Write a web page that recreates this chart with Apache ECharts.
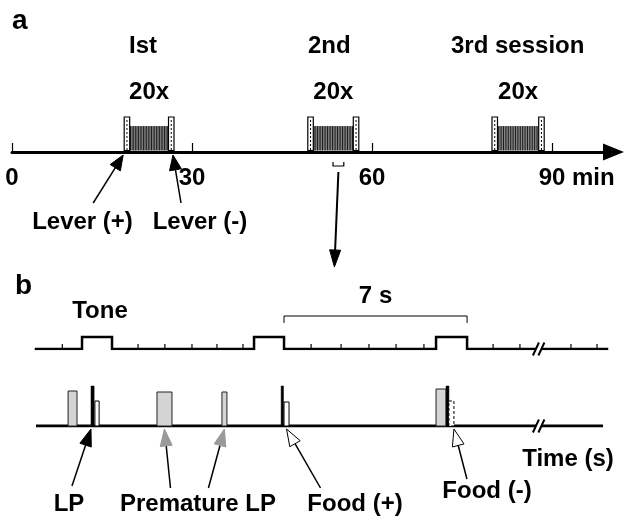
<!DOCTYPE html>
<html><head><meta charset="utf-8">
<script src="https://cdn.jsdelivr.net/npm/echarts@6/dist/echarts.min.js"></script>
<style>html,body{margin:0;padding:0;background:#fff}#c{width:626px;height:516px}</style>
</head><body><div id="c"></div>
<script>
// ================= DATA =================
// Panel a (time in minutes)
const axisTicksMin = [0, 30, 60, 90];
const axisTickLabels = ['0', '30', '60', '90'];
const axisUnit = ' min';
const sessionNames = ['Ist', '2nd', '3rd session'];
const sessionRepeats = ['20x', '20x', '20x'];
const sessionStartMin = [18.7, 49.3, 80.0];
const sessionEndMin = [27.0, 57.8, 88.7];
const zoomWindowMin = [53.5, 55.3];
const leverLabels = ['Lever (+)', 'Lever (-)'];

// Panel b (time in seconds)
const toneOnsetS = [1.75, 8.29, 15.21];
const toneOffsetS = [2.89, 9.43, 16.39];
const toneTickS = [1.0, 3.88, 4.9, 5.93, 6.88, 7.87, 10.46, 11.6, 12.66, 13.69, 14.75, 17.38, 18.4, 20.34, 21.33];
const intervalBracketS = [9.43, 16.39];
const intervalLabel = '7 s';
const breakS = 19.14;
const grayStartS = [1.22, 4.60, 7.07, 15.21];
const grayEndS = [1.56, 5.17, 7.26, 15.59];
const grayHeight = [0.875, 0.85, 0.85, 0.925];
const leverPressStartS = [2.09, 9.32, 15.59];
const leverPressEndS = [2.21, 9.41, 15.70];
const foodStartS = [2.24, 9.43, 15.70];
const foodEndS = [2.40, 9.62, 15.89];
const foodHeight = [0.625, 0.60, 0.625];
const foodDelivered = [true, true, false];
const eventLabels = ['LP', 'Premature LP', 'Food (+)', 'Food (-)', 'Tone', 'Time (s)'];

// ================= LAYOUT / STYLE =================
const FONT = '"Liberation Sans", Arial, Helvetica, sans-serif';
const FS = 24;
const POST_H = 1.0, HATCH_H = 0.74;
const T_END = 21.71, LP_END = 21.56;

const chart = echarts.init(document.getElementById('c'), null, {renderer: 'canvas', width: 626, height: 516});

function txt(text, x, y, align, size) {
  return {type: 'text', silent: true, style: {text: text, x: x, y: y, fill: '#000',
    font: 'bold ' + (size || FS) + 'px ' + FONT, align: align || 'center', verticalAlign: 'middle'}};
}
function arrow(tip, tail, headLen, headW, fill, stroke, lw) {
  const dx = tip[0] - tail[0], dy = tip[1] - tail[1];
  const L = Math.hypot(dx, dy), ux = dx / L, uy = dy / L;
  const bx = tip[0] - ux * headLen, by = tip[1] - uy * headLen;
  const px = -uy * headW / 2, py = ux * headW / 2;
  return [
    {type: 'line', shape: {x1: tail[0], y1: tail[1], x2: bx + ux * 2, y2: by + uy * 2}, style: {stroke: '#000', lineWidth: lw || 1.5}},
    {type: 'polygon', shape: {points: [tip, [bx + px, by + py], [bx - px, by - py]]}, style: {fill: fill, stroke: stroke || fill, lineWidth: 1}}
  ];
}

// ---- panel a renderers ----
function renderSession(params, api) {
  const s = api.value(0), e = api.value(1);
  const x0 = api.coord([s, 0])[0], x1 = api.coord([e, 0])[0];
  const yb = api.coord([s, 0])[1] - 1.5;
  const yPost = api.coord([s, POST_H])[1];
  const yHatch = api.coord([s, HATCH_H])[1];
  const pw = 5.5;
  const ch = [];
  const hx0 = x0 + pw, hx1 = x1 - pw;
  ch.push({type: 'rect', shape: {x: hx0, y: yHatch, width: hx1 - hx0, height: yb - yHatch}, style: {fill: '#b0b0b0'}});
  const n = 24;
  for (let k = 0; k < n; k++) {
    const x = hx0 + (k + 0.5) * (hx1 - hx0) / n;
    ch.push({type: 'line', shape: {x1: x, y1: yHatch, x2: x, y2: yb}, style: {stroke: '#1a1a1a', lineWidth: 1}});
  }
  [[x0, x0 + pw], [x1 - pw, x1]].forEach(function (p) {
    ch.push({type: 'rect', shape: {x: p[0], y: yPost, width: p[1] - p[0], height: yb - yPost}, style: {fill: '#fff', stroke: '#000', lineWidth: 1.2}});
    const cx = (p[0] + p[1]) / 2;
    ch.push({type: 'line', shape: {x1: cx, y1: yPost + 3, x2: cx, y2: yb}, style: {stroke: '#000', lineWidth: 1, lineDash: [2, 2]}});
  });
  ch.push(txt(sessionRepeats[params.dataIndex], (x0 + x1) / 2, yPost - 24.5));
  return {type: 'group', children: ch};
}
const leverArrowOffset = [[-30, 48], [8, 48]];
function renderLeverArrow(params, api) {
  const p = api.coord([api.value(0), 0]);
  const tip = [p[0] - 1, p[1] + 3];
  const off = leverArrowOffset[params.dataIndex];
  return {type: 'group', children: arrow(tip, [tip[0] + off[0], tip[1] + off[1]], 15, 12, '#000', '#000', 1.5)};
}
function renderZoomLink(params, api) {
  const a = api.coord([api.value(0), 0]), b = api.coord([api.value(1), 0]);
  const y1 = a[1] + 10, y2 = a[1] + 14;
  const cx = (a[0] + b[0]) / 2;
  const ch = [{type: 'polyline', shape: {points: [[a[0], y1], [a[0], y2], [b[0], y2], [b[0], y1]]}, style: {stroke: '#000', lineWidth: 1.2, fill: null}}];
  return {type: 'group', children: ch.concat(arrow([cx - 4, a[1] + 115], [cx, a[1] + 20], 17, 11, '#000', '#000', 2))};
}

// ---- panel b renderers ----
function renderToneTick(params, api) {
  const p = api.coord([api.value(0), 0]);
  return {type: 'line', shape: {x1: p[0], y1: p[1], x2: p[0], y2: p[1] - 5}, style: {stroke: '#000', lineWidth: 1.2}};
}
function renderBreak(params, api) {
  const p = api.coord([api.value(0), 0]);
  const cx = p[0], cy = p[1];
  const A0 = [cx - 6.5, cy + 6.5], A1 = [cx - 0.5, cy - 6.5], B0 = [cx - 1, cy + 6.5], B1 = [cx + 5, cy - 6.5];
  return {type: 'group', children: [
    {type: 'polygon', shape: {points: [A0, A1, B1, B0]}, style: {fill: '#fff'}},
    {type: 'line', shape: {x1: A0[0], y1: A0[1], x2: A1[0], y2: A1[1]}, style: {stroke: '#000', lineWidth: 2}},
    {type: 'line', shape: {x1: B0[0], y1: B0[1], x2: B1[0], y2: B1[1]}, style: {stroke: '#000', lineWidth: 2}}
  ]};
}
function renderBracket(params, api) {
  const a = api.coord([api.value(0), 2.75]), b = api.coord([api.value(1), 2.75]);
  const yEnd = api.coord([api.value(0), 2.17])[1];
  return {type: 'group', children: [
    {type: 'polyline', shape: {points: [[a[0], yEnd], [a[0], a[1]], [b[0], b[1]], [b[0], yEnd]]}, style: {stroke: '#000', lineWidth: 1, fill: null}},
    txt(intervalLabel, (a[0] + b[0]) / 2, a[1] - 19.5)
  ]};
}
function renderEvent(params, api) {
  const s = api.value(0), e = api.value(1), h = api.value(2), kind = api.value(3);
  const p0 = api.coord([s, 0]), p1 = api.coord([e, h]);
  const yb = p0[1];
  const shape = {x: p0[0], y: p1[1], width: p1[0] - p0[0], height: yb - p1[1]};
  let style;
  if (kind === 0) style = {fill: '#d4d4d4', stroke: '#222', lineWidth: 1};
  else if (kind === 1) style = {fill: '#000', stroke: '#000', lineWidth: 0.5};
  else if (kind === 2) style = {fill: '#fff', stroke: '#000', lineWidth: 1};
  else style = {fill: '#fff', stroke: '#000', lineWidth: 1, lineDash: [3, 2]};
  return {type: 'rect', shape: shape, style: style};
}
// arrows in panel b: anchor time, head style, tail offset (px)
const eventArrowOffset = [[-19, 57], [6, 59], [-16, 59], [34, 59], [13, 50]];
const eventArrowHead = [['#000', '#000'], ['#9a9a9a', '#9a9a9a'], ['#9a9a9a', '#9a9a9a'], ['#fff', '#000'], ['#fff', '#000']];
function renderEventArrow(params, api) {
  const p = api.coord([api.value(0), 0]);
  const tip = [p[0], p[1] + 3];
  const off = eventArrowOffset[params.dataIndex], hd = eventArrowHead[params.dataIndex];
  return {type: 'group', children: arrow(tip, [tip[0] + off[0], tip[1] + off[1]], 17, 12, hd[0], hd[1], 1.5)};
}

// ---- build data for series ----
const sessionData = sessionStartMin.map(function (s, i) { return [s, sessionEndMin[i]]; });
const leverArrowData = [[sessionStartMin[0], 0], [sessionEndMin[0], 0]];
const toneLine = [[0, 0]];
toneOnsetS.forEach(function (on, i) { toneLine.push([on, 0], [on, 1], [toneOffsetS[i], 1], [toneOffsetS[i], 0]); });
toneLine.push([T_END, 0]);
const eventData = [];
grayStartS.forEach(function (s, i) { eventData.push([s, grayEndS[i], grayHeight[i], 0]); });
leverPressStartS.forEach(function (s, i) { eventData.push([s, leverPressEndS[i], 1, 1]); });
foodStartS.forEach(function (s, i) { eventData.push([s, foodEndS[i], foodHeight[i], foodDelivered[i] ? 2 : 3]); });
const eventArrowData = [
  [leverPressStartS[0], 0],
  [(grayStartS[1] + grayEndS[1]) / 2, 0],
  [(grayStartS[2] + grayEndS[2]) / 2, 0],
  [(foodStartS[1] + foodEndS[1]) / 2, 0],
  [foodEndS[2], 0]
];

const base = {animation: false, silent: true};
chart.setOption({
  animation: false,
  backgroundColor: '#fff',
  grid: [
    {left: 12, top: 99.5, width: 601.5, height: 52.5, outerBoundsMode: 'none'},
    {left: 36, top: 289, width: 571, height: 60, outerBoundsMode: 'none'},
    {left: 36, top: 376, width: 571, height: 50, outerBoundsMode: 'none'}
  ],
  xAxis: [
    {gridIndex: 0, type: 'value', min: 0, max: 100.25, interval: 30,
      axisLine: {show: true, onZero: false, lineStyle: {color: '#000', width: 3}, symbol: ['none', 'triangle'], symbolSize: [17, 21]},
      axisTick: {show: true, inside: true, length: 9, lineStyle: {color: '#000', width: 1.2}, customValues: axisTicksMin},
      axisLabel: {show: true, margin: 14, color: '#000', fontSize: FS, fontWeight: 'bold', fontFamily: FONT, customValues: axisTicksMin,
        formatter: function (v) { const i = axisTicksMin.indexOf(v); return i >= 0 ? axisTickLabels[i] : ''; }},
      splitLine: {show: false}},
    {gridIndex: 1, type: 'value', min: 0, max: T_END, show: false},
    {gridIndex: 2, type: 'value', min: 0, max: T_END, show: false}
  ],
  yAxis: [
    {gridIndex: 0, type: 'value', min: 0, max: 1.5, show: false},
    {gridIndex: 1, type: 'value', min: 0, max: 5, show: false},
    {gridIndex: 2, type: 'value', min: 0, max: 1.25, show: false}
  ],
  series: [
    Object.assign({type: 'custom', xAxisIndex: 0, yAxisIndex: 0, renderItem: renderSession, data: sessionData, z: 3}, base),
    Object.assign({type: 'custom', xAxisIndex: 0, yAxisIndex: 0, renderItem: renderLeverArrow, data: leverArrowData, z: 4}, base),
    Object.assign({type: 'custom', xAxisIndex: 0, yAxisIndex: 0, renderItem: renderZoomLink, data: [zoomWindowMin], z: 4}, base),
    Object.assign({type: 'line', xAxisIndex: 1, yAxisIndex: 1, data: toneLine, symbol: 'none', lineStyle: {color: '#000', width: 2.5, join: 'miter', cap: 'square'}, z: 3}, base),
    Object.assign({type: 'custom', xAxisIndex: 1, yAxisIndex: 1, renderItem: renderToneTick, data: toneTickS.map(function (t) { return [t, 0]; }), z: 2}, base),
    Object.assign({type: 'custom', xAxisIndex: 1, yAxisIndex: 1, renderItem: renderBracket, data: [intervalBracketS], z: 3}, base),
    Object.assign({type: 'custom', xAxisIndex: 1, yAxisIndex: 1, renderItem: renderBreak, data: [[breakS, 0]], z: 5}, base),
    Object.assign({type: 'line', xAxisIndex: 2, yAxisIndex: 2, data: [[0, 0], [LP_END, 0]], symbol: 'none', lineStyle: {color: '#000', width: 3}, z: 3}, base),
    Object.assign({type: 'custom', xAxisIndex: 2, yAxisIndex: 2, renderItem: renderEvent, data: eventData, z: 4}, base),
    Object.assign({type: 'custom', xAxisIndex: 2, yAxisIndex: 2, renderItem: renderBreak, data: [[breakS, 0]], z: 5}, base),
    Object.assign({type: 'custom', xAxisIndex: 2, yAxisIndex: 2, renderItem: renderEventArrow, data: eventArrowData, z: 6}, base)
  ]
});

// ---- text annotations ----
const px = function (axis, v) { return chart.convertToPixel({xAxisIndex: axis}, v); };
const sessionNameX = [129, 308, 451];
const g = [
  txt('a', 12, 21, 'left', 28),
  txt('b', 15, 286, 'left', 28)
];
sessionNames.forEach(function (n, i) { g.push(txt(n, sessionNameX[i], 46, 'left')); });
const x90 = px(0, axisTicksMin[3]);
g.push(txt(axisUnit, x90 + 13.3, 166 + FS / 2, 'left'));
g.push(txt(leverLabels[0], 82.5, 222));
g.push(txt(leverLabels[1], 200, 222));
g.push(txt(eventLabels[4], px(1, (toneOnsetS[0] + toneOffsetS[0]) / 2) + 3, 311.5));
g.push(txt(eventLabels[0], 69, 504));
g.push(txt(eventLabels[1], 198, 504));
g.push(txt(eventLabels[2], 355, 504));
g.push(txt(eventLabels[3], 487, 491));
g.push(txt(eventLabels[5], 568, 459));
chart.setOption({graphic: {elements: g.map(function (e) { return Object.assign({z: 10}, e); })}});
</script>
</body></html>
